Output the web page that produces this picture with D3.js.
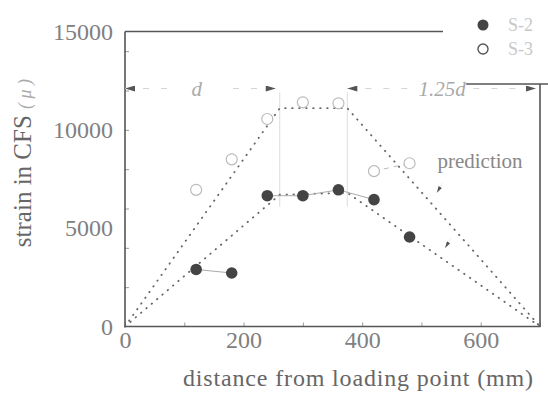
<!DOCTYPE html>
<html>
<head>
<meta charset="utf-8">
<script src="https://cdn.jsdelivr.net/npm/d3@7"></script>
<style>
  body { margin: 0; background: #fff; }
  svg { display: block; font-family: 'Liberation Serif', 'DejaVu Serif', serif; }
</style>
</head>
<body>
<main></main>
<script>
// measured strain (x in mm, y in micro-strain)
const distance = [120, 180, 240, 300, 360, 420, 480];
const strainS2 = [2900, 2720, 6650, 6650, 6950, 6450, 4550];
const strainS3 = [6950, 8500, 10550, 11400, 11350, 7900, 8300];

// predicted strain envelopes
const predUpperX = [0, 261, 375, 700];
const predUpperY = [0, 11100, 11100, 0];
const predLowerX = [0, 261, 375, 700];
const predLowerY = [0, 6700, 6800, 0];

// thin connectors between measured points (index pairs)
const linksS2 = [[0, 1], [2, 3], [3, 4], [4, 5]];
const linksS3 = [[5, 6]];

const xTicks = [0, 100, 200, 300, 400, 500, 600, 700];
const xLabels = [0, 200, 400, 600];
const yTicks = [2000, 4000, 6000, 8000, 10000, 12000, 14000];
const yLabels = [0, 5000, 10000, 15000];

function drawChart() {
  const width = 548;
  const height = 400;

  const x = d3.scaleLinear().domain([0, 700]).range([125, 540]);
  const y = d3.scaleLinear().domain([0, 15000]).range([326.5, 31.5]);

  const svg = d3.select('main')
    .append('svg')
    .attr('width', width)
    .attr('height', height)
    .attr('viewBox', [0, 0, width, height]);

  const defs = svg.append('defs');
  defs.append('marker')
    .attr('id', 'tip')
    .attr('viewBox', '0 0 10 6')
    .attr('refX', 10)
    .attr('refY', 3)
    .attr('markerWidth', 14)
    .attr('markerHeight', 6)
    .attr('markerUnits', 'userSpaceOnUse')
    .attr('orient', 'auto-start-reverse')
    .append('path')
    .attr('d', 'M0,0 L10,3 L0,6 Z')
    .attr('fill', '#555');
  defs.append('marker')
    .attr('id', 'smalltip')
    .attr('viewBox', '0 0 10 6')
    .attr('refX', 10)
    .attr('refY', 3)
    .attr('markerWidth', 7)
    .attr('markerHeight', 4)
    .attr('markerUnits', 'userSpaceOnUse')
    .attr('orient', 'auto')
    .append('path')
    .attr('d', 'M0,0 L10,3 L0,6 Z')
    .attr('fill', '#555');

  // ticks (inward, no labels)
  svg.append('g')
    .attr('transform', `translate(0,${y(0)})`)
    .call(d3.axisBottom(x).tickValues(xTicks).tickSize(-4).tickFormat(''))
    .call(g => g.select('.domain').remove())
    .call(g => g.selectAll('line').attr('stroke', '#999'));

  svg.append('g')
    .attr('transform', `translate(${x(0)},0)`)
    .call(d3.axisLeft(y).tickValues(yTicks).tickSize(-4).tickFormat(''))
    .call(g => g.select('.domain').remove())
    .call(g => g.selectAll('line').attr('stroke', '#999'));

  // tick labels
  svg.append('g')
    .attr('transform', `translate(0,${y(0)})`)
    .call(d3.axisBottom(x).tickValues(xLabels).tickSize(0).tickPadding(0))
    .call(g => g.select('.domain').remove())
    .call(g => g.selectAll('text')
      .attr('dy', 0)
      .attr('y', 21)
      .attr('font-family', 'Liberation Serif, serif')
      .attr('font-size', 24)
      .attr('fill', '#808080'));

  svg.append('g')
    .attr('transform', `translate(${x(0)},0)`)
    .call(d3.axisLeft(y).tickValues(yLabels).tickSize(0).tickPadding(12).tickFormat(d3.format('d')))
    .call(g => g.select('.domain').remove())
    .call(g => g.selectAll('text')
      .attr('dy', '0.32em')
      .attr('font-family', 'Liberation Serif, serif')
      .attr('font-size', 24)
      .attr('fill', '#808080'));

  // frame (broken at top right by the legend)
  const frame = svg.append('g')
    .attr('stroke', '#555')
    .attr('stroke-width', 1.6)
    .attr('fill', 'none');
  frame.append('path')
    .attr('d', `M${x(0)},${y(15000)} V${y(0)} H${x(700)} V${y(12330)}`);
  frame.append('line')
    .attr('x1', x(0)).attr('x2', 443)
    .attr('y1', y(15000)).attr('y2', y(15000));
  frame.append('line')
    .attr('x1', 447).attr('x2', width)
    .attr('y1', y(12330)).attr('y2', y(12330));

  // faint guide lines at the corners of the prediction
  svg.append('g')
    .selectAll('line')
    .data([predUpperX[1], predUpperX[2]])
    .join('line')
    .attr('x1', d => x(d)).attr('x2', d => x(d))
    .attr('y1', y(11900)).attr('y2', y(6100))
    .attr('stroke', '#ddd')
    .attr('stroke-width', 1);

  // span annotations d and 1.25d
  const spanY = y(12100);
  const spans = [
    { from: 0, to: predUpperX[1], label: 'd', at: 121 },
    { from: predUpperX[2], to: 700, label: '1.25d', at: 535 },
  ];
  const spanG = svg.append('g');
  spans.forEach(s => {
    spanG.append('line')
      .attr('x1', x(s.from)).attr('x2', x(s.to))
      .attr('y1', spanY).attr('y2', spanY)
      .attr('stroke', '#d4d4d4')
      .attr('stroke-width', 1)
      .attr('stroke-dasharray', '6 12');
    spanG.append('line')
      .attr('x1', x(s.from) + 15).attr('x2', x(s.from))
      .attr('y1', spanY).attr('y2', spanY)
      .attr('stroke', 'none')
      .attr('marker-end', 'url(#tip)');
    spanG.append('line')
      .attr('x1', x(s.to) - 15).attr('x2', x(s.to) - 4)
      .attr('y1', spanY).attr('y2', spanY)
      .attr('stroke', 'none')
      .attr('marker-end', 'url(#tip)');
    spanG.append('rect')
      .attr('x', x(s.at) - 24).attr('y', spanY - 12)
      .attr('width', 48).attr('height', 24)
      .attr('fill', '#fff');
    spanG.append('text')
      .attr('x', x(s.at)).attr('y', spanY)
      .attr('dy', '0.35em')
      .attr('text-anchor', 'middle')
      .attr('font-style', 'italic')
      .attr('font-size', 21)
      .attr('fill', '#aaa')
      .text(s.label);
  });

  // prediction lines
  const line = d3.line().x(d => x(d[0])).y(d => y(d[1]));
  [[predUpperX, predUpperY], [predLowerX, predLowerY]].forEach(([xs, ys]) => {
    svg.append('path')
      .attr('d', line(xs.map((v, i) => [v, ys[i]])))
      .attr('fill', 'none')
      .attr('stroke', '#666')
      .attr('stroke-width', 1.8)
      .attr('stroke-linecap', 'round')
      .attr('stroke-dasharray', '0.5 6.5');
  });

  // connectors between measured points
  svg.append('g')
    .selectAll('line')
    .data(linksS2)
    .join('line')
    .attr('x1', d => x(distance[d[0]])).attr('y1', d => y(strainS2[d[0]]))
    .attr('x2', d => x(distance[d[1]])).attr('y2', d => y(strainS2[d[1]]))
    .attr('stroke', '#aaa')
    .attr('stroke-width', 1);
  svg.append('g')
    .selectAll('line')
    .data(linksS3)
    .join('line')
    .attr('x1', d => x(distance[d[0]])).attr('y1', d => y(strainS3[d[0]]))
    .attr('x2', d => x(distance[d[1]])).attr('y2', d => y(strainS3[d[1]]))
    .attr('stroke', '#bbb')
    .attr('stroke-width', 1)
    .attr('stroke-dasharray', '5 5');

  // prediction label with pointers
  svg.append('text')
    .attr('x', x(527))
    .attr('y', y(8390))
    .attr('dy', '0.3em')
    .attr('font-size', 21)
    .attr('fill', '#888')
    .text('prediction');
  [[526, 6800], [540, 3990]].forEach(([px, py]) => {
    svg.append('line')
      .attr('x1', x(px) + 6).attr('y1', y(py) - 10)
      .attr('x2', x(px)).attr('y2', y(py))
      .attr('stroke', '#eee')
      .attr('stroke-width', 1)
      .attr('marker-end', 'url(#smalltip)');
  });

  // measured points
  svg.append('g')
    .selectAll('circle')
    .data(distance)
    .join('circle')
    .attr('cx', d => x(d))
    .attr('cy', (d, i) => y(strainS3[i]))
    .attr('r', 5.5)
    .attr('fill', '#fff')
    .attr('stroke', '#bbb')
    .attr('stroke-width', 1.2);

  svg.append('g')
    .selectAll('circle')
    .data(distance)
    .join('circle')
    .attr('cx', d => x(d))
    .attr('cy', (d, i) => y(strainS2[i]))
    .attr('r', 5.8)
    .attr('fill', '#444');

  // legend
  const legend = svg.append('g');
  const items = [
    { label: 'S-2', filled: true, cy: 25 },
    { label: 'S-3', filled: false, cy: 49 },
  ];
  items.forEach(it => {
    legend.append('circle')
      .attr('cx', 483)
      .attr('cy', it.cy)
      .attr('r', it.filled ? 5.5 : 5)
      .attr('fill', it.filled ? '#444' : '#fff')
      .attr('stroke', it.filled ? 'none' : '#555')
      .attr('stroke-width', 1.4);
    legend.append('text')
      .attr('x', 508)
      .attr('y', it.cy)
      .attr('dy', '0.35em')
      .attr('font-size', 18)
      .attr('fill', '#c8c8c8')
      .text(it.label);
  });

  // axis titles
  svg.append('text')
    .attr('x', 358)
    .attr('y', 386)
    .attr('text-anchor', 'middle')
    .attr('font-size', 24)
    .attr('textLength', 350)
    .attr('lengthAdjust', 'spacing')
    .attr('fill', '#666')
    .text('distance from loading point (mm)');

  const yTitle = svg.append('text')
    .attr('transform', 'translate(31,163) rotate(-90)')
    .attr('text-anchor', 'middle')
    .attr('font-size', 25)
    .attr('fill', '#666');
  yTitle.append('tspan').text('strain in CFS ');
  yTitle.append('tspan')
    .attr('font-size', 18)
    .attr('font-style', 'italic')
    .attr('fill', '#aaa')
    .text('( μ )');
}

drawChart();
</script>
</body>
</html>
